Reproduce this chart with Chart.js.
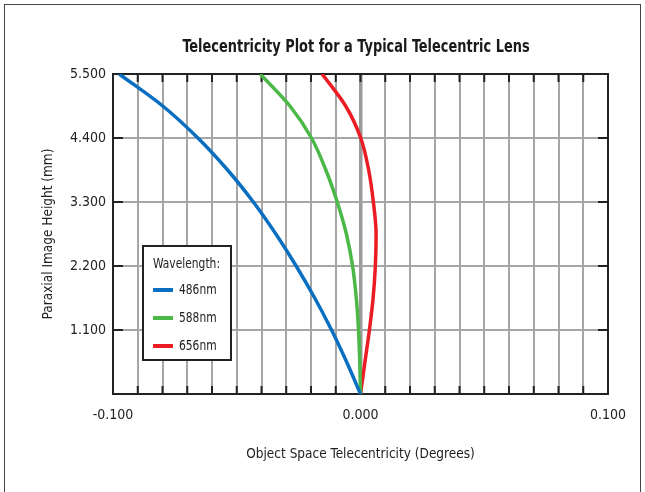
<!DOCTYPE html>
<html><head><meta charset="utf-8">
<script src="https://cdn.jsdelivr.net/npm/chart.js@4"></script>
<style>
html,body{margin:0;padding:0;background:#fff;}
#wrap{position:relative;width:645px;height:492px;overflow:hidden;}
#frame{position:absolute;left:4px;top:4px;width:635px;height:500px;border:1.5px solid #444;pointer-events:none;}
canvas{position:absolute;left:0;top:0;}
</style></head><body>
<div id="wrap"><canvas id="c" width="645" height="492"></canvas><div id="frame"></div></div>
<script>
const heights   = [0, 0.55, 1.1, 1.65, 2.2, 2.75, 3.3, 3.85, 4.4, 4.95, 5.5];
const blue486   = [0, -0.0056, -0.0117, -0.0185, -0.0260, -0.0342, -0.0433, -0.0537, -0.0657, -0.0799, -0.0975];
const green588  = [0, -0.0003, -0.0008, -0.0017, -0.0032, -0.0057, -0.0094, -0.0140, -0.0198, -0.0285, -0.0405];
const red656    = [0, 0.0018, 0.0036, 0.0051, 0.0060, 0.0063, 0.0052, 0.0033, 0.0001, -0.0060, -0.0155];
const seriesLabels = ['486nm', '588nm', '656nm'];
const seriesColors = ['#0a6fc0', '#4cb848', '#ec1c24'];
const yTickValues = [0, 1.1, 2.2, 3.3, 4.4, 5.5];
const xLabelValues = [-0.1, 0, 0.1];
const xGridStep = 0.01;
const titleText = 'Telecentricity Plot for a Typical Telecentric Lens';
const xTitle = 'Object Space Telecentricity (Degrees)';
const yTitle = 'Paraxial Image Height (mm)';
const legendTitle = 'Wavelength:';

const FONT = "'DejaVu Sans Condensed', 'Liberation Sans Narrow', sans-serif";
const toPts = xs => xs.map((x, i) => ({x: x, y: heights[i]}));
const seriesData = [blue486, green588, red656];

function condensedText(ctx, text, x, y, font, sx, align) {
  ctx.save();
  ctx.font = font;
  ctx.textAlign = align;
  ctx.textBaseline = 'middle';
  ctx.translate(x, y);
  ctx.scale(sx, 1);
  ctx.fillText(text, 0, 0);
  ctx.restore();
}

const innerTicks = {
  id: 'innerTicks',
  beforeDatasetsDraw(chart) {
    const {ctx, chartArea: a, scales: {x, y}} = chart;
    ctx.save();
    ctx.strokeStyle = '#222';
    ctx.lineWidth = 2;
    x.ticks.forEach(t => {
      const px = x.getPixelForValue(t.value);
      ctx.beginPath();
      ctx.moveTo(px, a.top); ctx.lineTo(px, a.top + 8);
      ctx.moveTo(px, a.bottom); ctx.lineTo(px, a.bottom - 8);
      ctx.stroke();
    });
    y.ticks.forEach(t => {
      const py = y.getPixelForValue(t.value);
      ctx.beginPath();
      ctx.moveTo(a.left, py); ctx.lineTo(a.left + 10, py);
      ctx.moveTo(a.right, py); ctx.lineTo(a.right - 10, py);
      ctx.stroke();
    });
    ctx.strokeRect(a.left, a.top, a.right - a.left, a.bottom - a.top);
    ctx.restore();
  }
};

const titleAndLegend = {
  id: 'titleAndLegend',
  afterDraw(chart) {
    const ctx = chart.ctx;
    ctx.save();
    ctx.fillStyle = '#1a1a1a';
    condensedText(ctx, titleText, 356, 48, 'bold 17px ' + FONT, 0.846, 'center');

    const bx = 143, by = 246, bw = 88, bh = 114;
    ctx.fillStyle = '#fff';
    ctx.fillRect(bx, by, bw, bh);
    ctx.strokeStyle = '#222';
    ctx.lineWidth = 2;
    ctx.strokeRect(bx, by, bw, bh);
    ctx.fillStyle = '#222';
    condensedText(ctx, legendTitle, 153, 264, '14.5px ' + FONT, 0.82, 'left');
    chart.data.datasets.forEach((ds, i) => {
      const ly = 290 + i * 28;
      ctx.strokeStyle = ds.borderColor;
      ctx.lineWidth = 4;
      ctx.beginPath();
      ctx.moveTo(153, ly); ctx.lineTo(173, ly);
      ctx.stroke();
      ctx.fillStyle = '#222';
      condensedText(ctx, ds.label, 179, ly, '14.5px ' + FONT, 0.82, 'left');
    });
    ctx.restore();
  }
};

new Chart(document.getElementById('c'), {
  type: 'line',
  data: {
    datasets: seriesData.map((d, i) => ({
      label: seriesLabels[i],
      data: toPts(d),
      borderColor: seriesColors[i],
      backgroundColor: seriesColors[i],
      borderWidth: 3.5,
      pointRadius: 0,
      cubicInterpolationMode: 'monotone',
      fill: false
    }))
  },
  options: {
    indexAxis: 'y',
    responsive: false,
    animation: false,
    devicePixelRatio: 1,
    layout: {padding: {left: 0, right: 37, top: 74, bottom: 0}},
    plugins: {
      legend: {display: false},
      tooltip: {enabled: false},
      title: {display: false}
    },
    scales: {
      x: {
        type: 'linear',
        position: 'bottom',
        min: -0.1, max: 0.1,
        afterBuildTicks(s) {
          const t = [];
          for (let k = -10; k <= 10; k++) t.push({value: k * xGridStep});
          s.ticks = t;
        },
        afterFit(s) { s.height = 98; },
        ticks: {
          autoSkip: false, maxRotation: 0,
          color: '#222',
          font: {family: FONT, size: 14},
          padding: 13,
          callback(v) {
            const hit = xLabelValues.find(l => Math.abs(l - v) < 1e-9);
            return hit === undefined ? '' : hit.toFixed(3);
          }
        },
        grid: {
          drawTicks: false,
          color: ctx => (ctx.tick && Math.abs(ctx.tick.value) < 1e-9) ? '#9a9a9a' : '#a6a6a6',
          lineWidth: ctx => (ctx.tick && Math.abs(ctx.tick.value) < 1e-9) ? 3.5 : 2
        },
        border: {display: false},
        title: {
          display: true, text: xTitle, color: '#222',
          font: {family: FONT, size: 13.5},
          padding: {top: 0, bottom: 29}
        }
      },
      y: {
        type: 'linear',
        position: 'left',
        min: 0, max: 5.5,
        afterBuildTicks(s) { s.ticks = yTickValues.map(v => ({value: v})); },
        afterFit(s) { s.width = 113; },
        ticks: {
          color: '#222',
          font: {family: FONT, size: 14},
          padding: 7,
          callback(v) { return v === 0 ? '' : Number(v).toFixed(3); }
        },
        grid: {drawTicks: false, color: '#a6a6a6', lineWidth: 2},
        border: {display: false},
        title: {
          display: true, text: yTitle, color: '#222',
          font: {family: FONT, size: 13.5},
          padding: {top: 40, bottom: 0}
        }
      }
    }
  },
  plugins: [innerTicks, titleAndLegend]
});
</script>
</body></html>
